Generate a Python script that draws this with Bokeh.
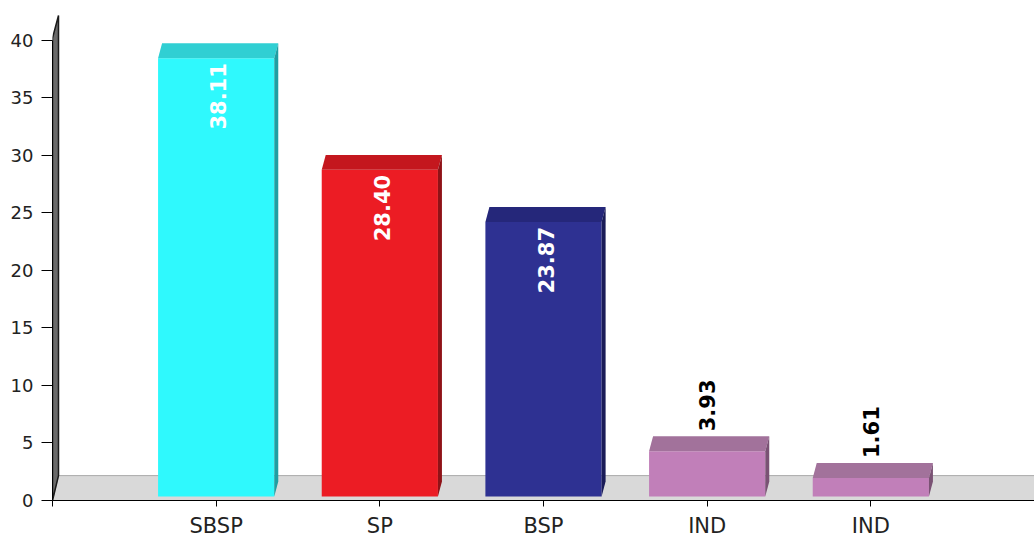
from bokeh.plotting import figure
from bokeh.models import Range1d, FixedTicker, ColumnDataSource
from bokeh.core.properties import value
from bokeh.embed import file_html
from bokeh.resources import INLINE

# ---- data ----
categories = ["SBSP", "SP", "BSP", "IND", "IND"]
values = [38.11, 28.40, 23.87, 3.93, 1.61]
labels = ["38.11", "28.40", "23.87", "3.93", "1.61"]
front_colors = ["#2ff9fd", "#ec1c24", "#2e3192", "#c17fb9", "#c17fb9"]
top_colors = ["#30cfd3", "#c4171e", "#25277a", "#a2729b", "#a2729b"]
side_colors = ["#1f9ea2", "#8f1217", "#1a1c58", "#7a5274", "#7a5274"]
label_colors = ["white", "white", "white", "black", "black"]
inside = [True, True, True, False, False]
y_ticks = [0, 5, 10, 15, 20, 25, 30, 35, 40]

# ---- layout ----
W, H = 1034, 540
LEFT, TOP, BOTTOM = 52, 10, 38
XMAX, YMAX = 6.0, 42.6
FW, FH = W - LEFT, H - TOP - BOTTOM
XU, YU = FW / XMAX, FH / YMAX          # px per data unit

BAR_W = 0.71
BASE = 4 / YU                          # bars sit slightly above the axis
BDX, BDY = 4 / XU, 15 / YU             # 3D depth of bars
WDX, WDY = 6 / XU, 25 / YU             # 3D depth of floor / wall

p = figure(width=W, height=H, output_backend="svg", toolbar_location=None,
           x_range=Range1d(0, XMAX), y_range=Range1d(0, YMAX),
           min_border_left=LEFT, min_border_top=TOP, min_border_right=0,
           min_border_bottom=BOTTOM, outline_line_color=None)
p.grid.visible = False
p.background_fill_color = "white"

# floor
p.patch([0, WDX, XMAX, XMAX, 0], [0, WDY, WDY, 0, 0],
        fill_color="#d9d9d9", line_color="#aaaaaa", line_width=1)
# wall
p.patch([0, 0, WDX, WDX], [0, 40.2, 40.2 + WDY - 0.2, WDY],
        fill_color="#6a6a6a", line_color="#1a1a1a", line_width=1.5)

xs = [i + 1 for i in range(len(values))]
front = ColumnDataSource(dict(
    left=[x - BAR_W / 2 for x in xs], right=[x + BAR_W / 2 for x in xs],
    bottom=[BASE] * len(xs), top=[v + BASE for v in values], color=front_colors))
p.quad(left="left", right="right", bottom="bottom", top="top", source=front,
       fill_color="color", line_color=None)

top_xs, top_ys, side_xs, side_ys = [], [], [], []
for x, v in zip(xs, values):
    l, r, t = x - BAR_W / 2, x + BAR_W / 2, v + BASE
    top_xs.append([l, r, r + BDX, l + BDX])
    top_ys.append([t, t, t + BDY, t + BDY])
    side_xs.append([r, r, r + BDX, r + BDX])
    side_ys.append([BASE, t, t + BDY, BASE + BDY])
p.patches(top_xs, top_ys, fill_color=top_colors, line_color=None)
p.patches(side_xs, side_ys, fill_color=side_colors, line_color=None)

# value labels
for x, v, lab, col, ins in zip(xs, values, labels, label_colors, inside):
    p.text(x=[x], y=[v + BASE], text=[lab], angle=90, angle_units="deg",
           text_align="right" if ins else "left", text_baseline="middle",
           x_offset=2 if ins else 0, y_offset=5 if ins else -20,
           text_color=col, text_font=value("DejaVu Sans"),
           text_font_size="21px", text_font_style="bold")

# axes
xa = p.xaxis[0]
xa.ticker = FixedTicker(ticks=[0, 1, 2, 3, 4, 5, 6])
xa.major_label_overrides = {0: "", 6: "", **{i + 1: c for i, c in enumerate(categories)}}
xa.major_label_text_font = "DejaVu Sans"
xa.major_label_text_font_size = "21px"
xa.major_label_text_color = "#222222"
xa.major_tick_out = 6
xa.major_tick_in = 0
xa.minor_tick_line_color = None
xa.axis_line_color = "black"
xa.major_tick_line_color = "black"
xa.major_label_standoff = 7

ya = p.yaxis[0]
ya.ticker = FixedTicker(ticks=y_ticks)
ya.bounds = (0, 40)
ya.major_label_text_font = "DejaVu Sans"
ya.major_label_text_font_size = "18px"
ya.major_label_text_color = "#222222"
ya.major_tick_out = 11
ya.major_tick_in = 0
ya.minor_tick_line_color = None
ya.axis_line_color = "black"
ya.major_tick_line_color = "black"
ya.major_label_standoff = 8

open("out.html", "w").write(file_html(p, INLINE))
